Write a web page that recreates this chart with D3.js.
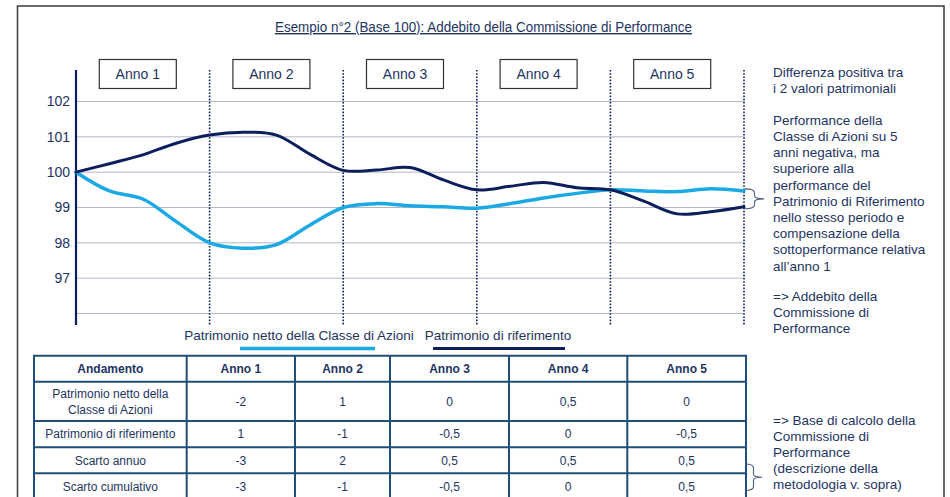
<!DOCTYPE html>
<html>
<head>
<meta charset="utf-8">
<script src="https://cdn.jsdelivr.net/npm/d3@7"></script>
<style>
  body { margin: 0; background: #fff; }
  svg { display: block; font-family: "Liberation Sans", Arial, sans-serif; }
</style>
</head>
<body>
<svg id="chart" width="950" height="497"></svg>
<script>
// tempo in anni (letto a trimestri dal grafico)
var tempi = [0, 0.25, 0.5, 0.75, 1, 1.25, 1.5, 1.75, 2, 2.25, 2.5, 2.75, 3, 3.25, 3.5, 3.75, 4, 4.25, 4.5, 4.75, 5];
var patrimonioNetto = [100, 99.47, 99.24, 98.6, 98.0, 97.85, 97.95, 98.5, 99.0, 99.11, 99.05, 99.02, 98.98, 99.11, 99.27, 99.4, 99.5, 99.47, 99.45, 99.53, 99.47];
var patrimonioRif = [100, 100.24, 100.49, 100.82, 101.05, 101.13, 101.05, 100.51, 100.05, 100.06, 100.13, 99.78, 99.5, 99.6, 99.71, 99.56, 99.5, 99.18, 98.82, 98.88, 99.02];
var anni = ["Anno 1", "Anno 2", "Anno 3", "Anno 4", "Anno 5"];
var yTicks = [97, 98, 99, 100, 101, 102];
var gridTicks = [96, 97, 98, 99, 100, 101, 102];
var legenda = ["Patrimonio netto della Classe di Azioni", "Patrimonio di riferimento"];

var intestazione = ["Andamento", "Anno 1", "Anno 2", "Anno 3", "Anno 4", "Anno 5"];
var righeEtichette = [["Patrimonio netto della", "Classe di Azioni"], ["Patrimonio di riferimento"], ["Scarto annuo"], ["Scarto cumulativo"]];
var rigaNetto = ["-2", "1", "0", "0,5", "0"];
var rigaRif = ["1", "-1", "-0,5", "0", "-0,5"];
var rigaScarto = ["-3", "2", "0,5", "0,5", "0,5"];
var rigaCumulativo = ["-3", "-1", "-0,5", "0", "0,5"];

var testoDestra1 = ["Differenza positiva tra", "i 2 valori patrimoniali"];
var testoDestra2 = ["Performance della", "Classe di Azioni su 5", "anni negativa, ma", "superiore alla", "performance del", "Patrimonio di Riferimento", "nello stesso periodo e", "compensazione della", "sottoperformance relativa", "all\u2019anno 1"];
var testoDestra3 = ["=> Addebito della", "Commissione di", "Performance"];
var testoDestra4 = ["=> Base di calcolo della", "Commissione di", "Performance", "(descrizione della", "metodologia v. sopra)"];

var navy = "#0c1f5c", light = "#1aa9e4", txt = "#1d3461", grid = "#b3b8c8", tblBorder = "#1f4e79";

var svg = d3.select("#chart");

// cornice
svg.append("rect").attr("x", 17.5).attr("y", 6).attr("width", 926.5).attr("height", 520)
    .attr("fill", "none").attr("stroke", "#3a3a3a").attr("stroke-width", 1.5);

// titolo
svg.append("text").attr("x", 483.5).attr("y", 32).attr("text-anchor", "middle")
    .attr("font-size", 14).attr("fill", txt)
    .attr("textLength", 417).attr("lengthAdjust", "spacingAndGlyphs")
    .attr("text-decoration", "underline")
    .text("Esempio n\u00b02 (Base 100): Addebito della Commissione di Performance");

var x = d3.scaleLinear().domain([0, 5]).range([76, 744]);
var y = d3.scaleLinear().domain([96, 102]).range([313.5, 101.5]);

// griglia
svg.append("g").selectAll("line").data(gridTicks).join("line")
    .attr("x1", x(0)).attr("x2", x(5) + 1)
    .attr("y1", function(d){ return y(d); }).attr("y2", function(d){ return y(d); })
    .attr("stroke", grid).attr("stroke-width", 1);

// linee tratteggiate di fine anno
svg.append("g").selectAll("line").data(d3.range(1, 6)).join("line")
    .attr("x1", function(d){ return x(d); }).attr("x2", function(d){ return x(d); })
    .attr("y1", 70).attr("y2", 325)
    .attr("stroke", navy).attr("stroke-width", 1.6).attr("stroke-dasharray", "1.6,1.6");

// asse y
var yAxis = d3.axisLeft(y).tickValues(yTicks).tickFormat(d3.format("d")).tickSize(0).tickPadding(6);
var gy = svg.append("g").attr("transform", "translate(" + x(0) + ",0)").call(yAxis);
gy.select(".domain").remove();
gy.selectAll("text").attr("font-size", 14).attr("fill", txt)
    .attr("font-family", "Liberation Sans, Arial, sans-serif");
svg.append("line").attr("x1", x(0)).attr("x2", x(0)).attr("y1", 70).attr("y2", 325)
    .attr("stroke", navy).attr("stroke-width", 2.2);

// caselle anni
var box = svg.append("g").selectAll("g").data(anni).join("g")
    .attr("transform", function(d, i){ return "translate(" + (x(i + 0.5) - 5) + ",74)"; });
box.append("rect").attr("x", -38.5).attr("y", -14.5).attr("width", 77).attr("height", 29)
    .attr("fill", "#fff").attr("stroke", "#333").attr("stroke-width", 1.2);
box.append("text").attr("text-anchor", "middle").attr("dy", "0.36em")
    .attr("font-size", 14).attr("fill", txt).text(function(d){ return d; });

// linee
var line = d3.line()
    .x(function(d, i){ return x(tempi[i]); })
    .y(function(d){ return y(d); })
    .curve(d3.curveCatmullRom.alpha(0.5));

svg.append("path").datum(patrimonioNetto).attr("d", line)
    .attr("fill", "none").attr("stroke", light).attr("stroke-width", 3.5).attr("stroke-linecap", "round");
svg.append("path").datum(patrimonioRif).attr("d", line)
    .attr("fill", "none").attr("stroke", navy).attr("stroke-width", 3).attr("stroke-linecap", "round");

// parentesi graffa
function brace(x0, y0, y1, w) {
    var m = (y0 + y1) / 2, h = w * 0.5;
    return "M" + x0 + "," + y0 +
        " Q" + (x0 + h) + "," + y0 + " " + (x0 + h) + "," + (y0 + 4) +
        " L" + (x0 + h) + "," + (m - 3) +
        " Q" + (x0 + h) + "," + m + " " + (x0 + w) + "," + m +
        " Q" + (x0 + h) + "," + m + " " + (x0 + h) + "," + (m + 3) +
        " L" + (x0 + h) + "," + (y1 - 4) +
        " Q" + (x0 + h) + "," + y1 + " " + x0 + "," + y1;
}
var yTop = y(patrimonioNetto[patrimonioNetto.length - 1]) - 2;
var yBot = y(patrimonioRif[patrimonioRif.length - 1]) + 2;
svg.append("path").attr("d", brace(745, yTop, yBot, 19))
    .attr("fill", "none").attr("stroke", "#4b5b7c").attr("stroke-width", 1.1);

// legenda
var leg = svg.append("g");
leg.append("text").attr("x", 299).attr("y", 340).attr("text-anchor", "middle")
    .attr("font-size", 13.5).attr("fill", txt).text(legenda[0]);
leg.append("line").attr("x1", 240).attr("x2", 375).attr("y1", 348.5).attr("y2", 348.5)
    .attr("stroke", light).attr("stroke-width", 3.5);
leg.append("text").attr("x", 498).attr("y", 340).attr("text-anchor", "middle")
    .attr("font-size", 13.5).attr("fill", txt).text(legenda[1]);
leg.append("line").attr("x1", 433).attr("x2", 565).attr("y1", 348.5).attr("y2", 348.5)
    .attr("stroke", navy).attr("stroke-width", 3);

// testo a destra
function blocco(lines, x0, y0, lh) {
    svg.append("text").attr("font-size", 13.5).attr("fill", txt)
        .selectAll("tspan").data(lines).join("tspan")
        .attr("x", x0).attr("y", function(d, i){ return y0 + i * lh; })
        .attr("dy", "0.36em").text(function(d){ return d; });
}
blocco(testoDestra1, 773, 72.5, 16);
blocco(testoDestra2, 773, 120, 16.2);
blocco(testoDestra3, 773, 296, 16);
blocco(testoDestra4, 773, 420, 16);

// tabella
var colX = [34, 186.7, 295, 390, 509, 627.3, 746];
var rowY = [355.7, 381.7, 421, 447.3, 473.3, 499.5];
var righe = [rigaNetto, rigaRif, rigaScarto, rigaCumulativo];
var tbl = svg.append("g");

tbl.selectAll("text.h").data(intestazione).join("text").attr("class", "h")
    .attr("x", function(d, i){ return (colX[i] + colX[i + 1]) / 2; })
    .attr("y", (rowY[0] + rowY[1]) / 2).attr("dy", "0.36em")
    .attr("text-anchor", "middle").attr("font-size", 12).attr("font-weight", "bold")
    .attr("fill", txt).text(function(d){ return d; });

righeEtichette.forEach(function(lab, r) {
    var cy = (rowY[r + 1] + rowY[r + 2]) / 2;
    tbl.append("text").attr("text-anchor", "middle").attr("font-size", 12).attr("fill", txt)
        .selectAll("tspan").data(lab).join("tspan")
        .attr("x", (colX[0] + colX[1]) / 2)
        .attr("y", function(d, i){ return cy + (i - (lab.length - 1) / 2) * 16; })
        .attr("dy", "0.36em").text(function(d){ return d; });
    tbl.selectAll(null).data(righe[r]).join("text")
        .attr("x", function(d, i){ return (colX[i + 1] + colX[i + 2]) / 2; })
        .attr("y", cy).attr("dy", "0.36em")
        .attr("text-anchor", "middle").attr("font-size", 12).attr("fill", txt)
        .text(function(d){ return d; });
});

tbl.selectAll("line.v").data(colX).join("line").attr("class", "v")
    .attr("x1", function(d){ return d; }).attr("x2", function(d){ return d; })
    .attr("y1", rowY[0]).attr("y2", rowY[rowY.length - 1])
    .attr("stroke", tblBorder).attr("stroke-width", 2);
tbl.selectAll("line.o").data(rowY).join("line").attr("class", "o")
    .attr("x1", colX[0] - 1).attr("x2", colX[colX.length - 1] + 1)
    .attr("y1", function(d){ return d; }).attr("y2", function(d){ return d; })
    .attr("stroke", tblBorder).attr("stroke-width", 2);

svg.append("path").attr("d", brace(745, 464, 490.5, 17))
    .attr("fill", "none").attr("stroke", "#4b5b7c").attr("stroke-width", 1.1);
</script>
</body>
</html>
